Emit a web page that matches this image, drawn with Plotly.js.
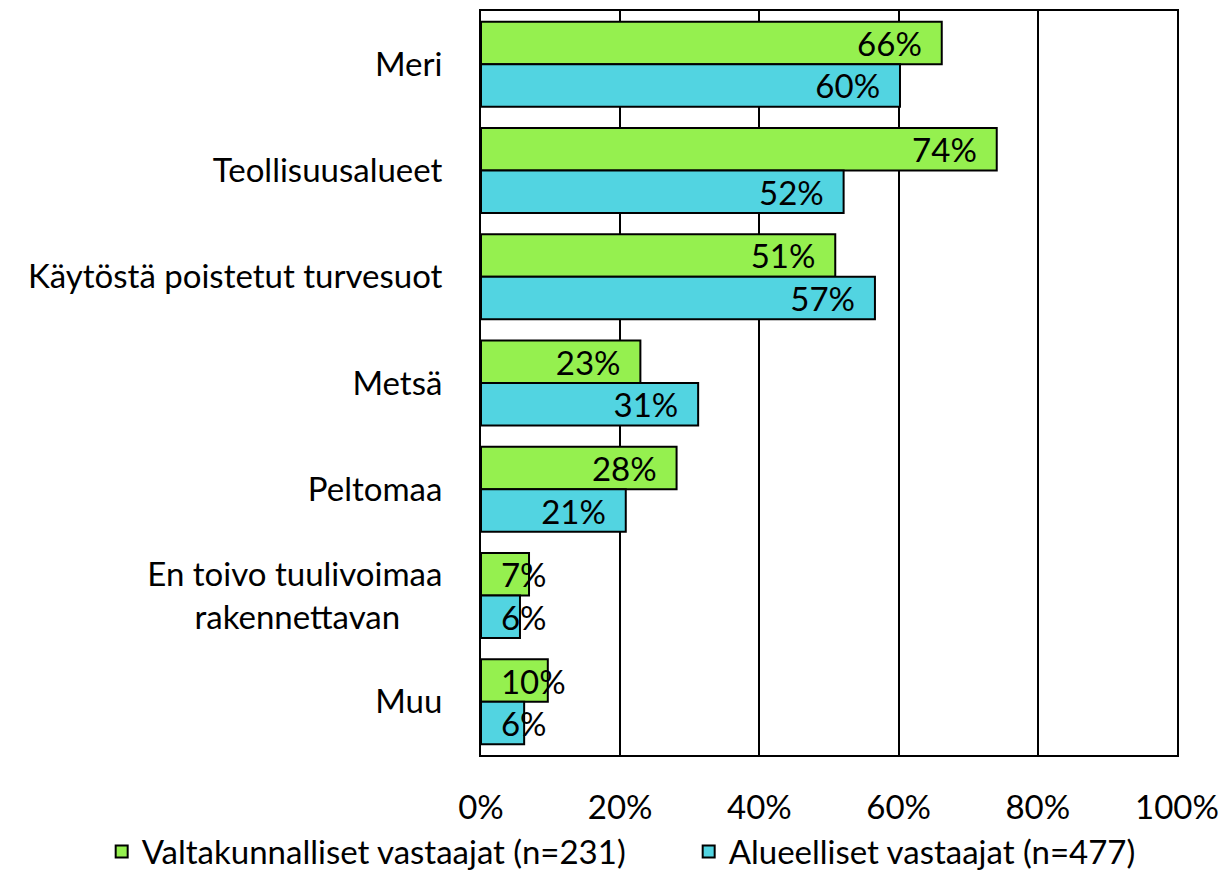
<!DOCTYPE html>
<html>
<head>
<meta charset="utf-8">
<script src="https://cdn.plot.ly/plotly-3.0.1.min.js"></script>
<style>body{margin:0;background:#fff;} #chart{width:1223px;height:870px;}</style>
</head>
<body>
<div id="chart"></div>
<script>
var categories = ["Meri", "Teollisuusalueet", "Käytöstä poistetut turvesuot", "Metsä", "Peltomaa", "En toivo tuulivoimaa<br>rakennettavan\u00a0\u00a0\u00a0\u00a0\u00a0", "Muu"];
var nationalValues = [66.2, 74.1, 50.9, 22.9, 28.1, 6.9, 9.6];
var regionalValues = [60.2, 52.1, 56.6, 31.2, 20.8, 5.6, 6.2];
var nationalLabels = ["66%", "74%", "51%", "23%", "28%", "7%", "10%"];
var regionalLabels = ["60%", "52%", "57%", "31%", "21%", "6%", "6%"];
var seriesNames = ["Valtakunnalliset vastaajat (n=231)", "Alueelliset vastaajat (n=477)"];
var seriesColors = ["#95F04F", "#52D4E1"];
var tickValues = [0, 20, 40, 60, 80, 100];
var tickLabels = ["0%", "20%", "40%", "60%", "80%", "100%"];

var font = "Lato, 'Open Sans', sans-serif";
var FS = 33;
var PAD = "\u00a0\u00a0";
var SMALL = 15; // labels of bars shorter than this do not fit inside

function mk(name, vals, labels, color, group, small) {
  var x = vals.map(function (v) { return (small ? v < SMALL : v >= SMALL) ? v : null; });
  var t = labels.map(function (l, i) { return x[i] === null ? "" : (small ? PAD + l : l + PAD); });
  return {
    type: "bar", orientation: "h", name: name,
    x: x, y: categories, text: t,
    offsetgroup: group, legendgroup: group, showlegend: !small,
    textposition: "inside", insidetextanchor: small ? "start" : "end", constraintext: "none",
    textangle: 0, cliponaxis: false,
    textfont: {family: font, size: FS, color: "#000"},
    marker: {color: color, line: {color: "#000", width: 2}},
    hoverinfo: "x+y"
  };
}
var data = [
  mk(seriesNames[0], nationalValues, nationalLabels, seriesColors[0], "a", false),
  mk(seriesNames[0], nationalValues, nationalLabels, seriesColors[0], "a", true),
  mk(seriesNames[1], regionalValues, regionalLabels, seriesColors[1], "b", false),
  mk(seriesNames[1], regionalValues, regionalLabels, seriesColors[1], "b", true)
];
var layout = {
  width: 1223, height: 870,
  margin: {l: 481, r: 46, t: 11, b: 115, autoexpand: false},
  paper_bgcolor: "#fff", plot_bgcolor: "#fff",
  font: {family: font, size: FS, color: "#000"},
  barmode: "group", bargap: 0.2, bargroupgap: 0,
  showlegend: true,
  legend: {orientation: "h", x: -0.545, xanchor: "left", y: -0.092, yanchor: "top",
           entrywidth: 542, entrywidthmode: "pixels",
           font: {family: font, size: FS, color: "#000"}, traceorder: "normal"},
  xaxis: {range: [0, 100], tickvals: tickValues, ticktext: tickLabels,
          showgrid: true, gridcolor: "#000", gridwidth: 2,
          showline: true, linecolor: "#000", linewidth: 2, mirror: true,
          ticks: "", ticklabelstandoff: 22, zeroline: false,
          tickfont: {family: font, size: FS}},
  yaxis: {autorange: "reversed", showline: true, linecolor: "#000", linewidth: 2, mirror: true,
          ticks: "", ticklabelstandoff: 30, showgrid: false,
          tickfont: {family: font, size: FS}}
};
Plotly.newPlot("chart", data, layout, {displayModeBar: false});
</script>
</body>
</html>
